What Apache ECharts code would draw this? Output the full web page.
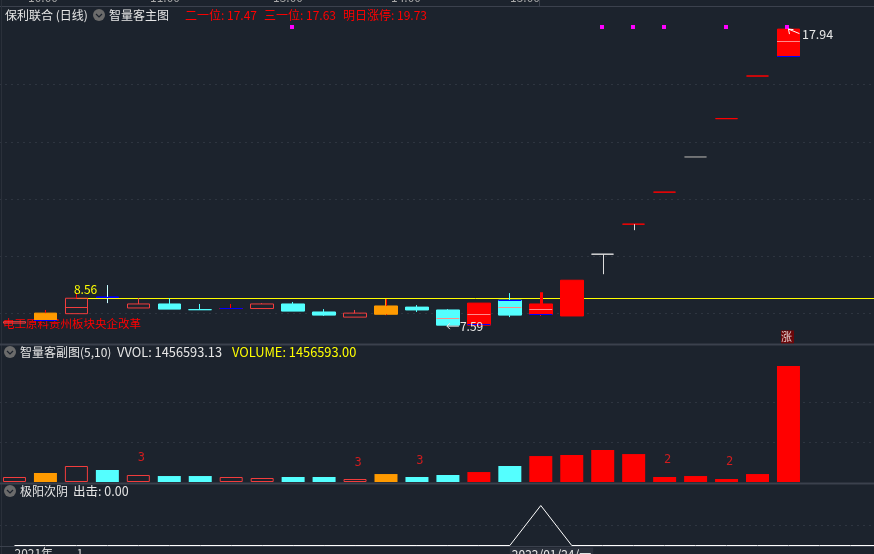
<!DOCTYPE html>
<html><head><meta charset="utf-8">
<style>html,body{margin:0;padding:0;background:#1c232d;overflow:hidden}#c{width:874px;height:554px}</style>
<script src="https://cdn.jsdelivr.net/npm/echarts@6/dist/echarts.min.js"></script>
</head><body><div id="c"></div>
<script>
// ---- data ----
const dayLabels = ['2021年','','1','','','','','','','','','','','','','','2022/01/24/一','','','','','','','','','','','',''];
const opens  = [7.66,7.77,7.99,8.57,8.19,8.33,8.13,8.17,8.17,8.33,8.05,7.87,7.97,8.22,8.12,7.59,8.46,7.97,7.91,10.07,11.12,12.24,13.47,14.81,16.30,17.00];
const closes = [7.71,8.01,8.53,8.57,8.33,8.15,8.13,8.17,8.33,8.08,7.94,8.01,8.26,8.12,7.59,8.36,7.94,8.33,9.16,10.07,11.12,12.24,13.47,14.81,16.30,17.94];
const lows   = [7.66,7.77,7.99,8.36,8.19,8.15,8.13,8.17,8.17,8.08,7.91,7.87,7.94,8.05,7.59,7.59,7.87,7.91,7.91,10.07,11.12,12.24,13.47,14.81,16.30,17.00];
const highs  = [7.71,8.01,8.53,8.99,8.53,8.53,8.33,8.33,8.36,8.40,8.15,8.12,8.50,8.29,8.15,8.36,8.71,8.33,9.16,10.07,11.12,12.24,13.47,14.81,16.30,17.94];
const candleKinds = ['hollow','orange','hollow','blue','hollow','cyan','cyan','red','hollow','cyan','cyan','hollow','orange','cyan','cyan','red','cyan','red','red','white','red','red','grey','red','red','red'];
const volumes = [62800,113000,201000,151000,88000,75000,75000,62800,50200,62800,62800,37700,100000,62800,88000,125000,201000,326000,339000,402000,351000,62800,75000,37700,100000,1456593];
const volumeKinds = ['hollow','orange','hollow','cyan','hollow','cyan','cyan','hollow','hollow','cyan','cyan','hollow','orange','cyan','cyan','red','cyan','red','red','red','red','red','red','red','red','red'];
const signal = [0,0,0,0,0,0,0,0,0,0,0,0,0,0,0,0,0,1,0,0,0,0,0,0,0,0,0,0,0];
const midLevels  = [[2,8.22],[14,7.83],[15,7.97],[16,8.20],[17,8.15],[25,17.49]];
const baseLevels = [[1,7.75],[3,8.57],[7,8.16],[15,7.61],[16,8.46],[17,7.96],[25,16.98]];
const extraWicks = [[1,8.01,8.12,'red'],[2,8.53,8.71,'red'],[12,8.26,8.50,'red'],[12,7.97,7.94,'red'],[17,8.33,8.74,'thick'],[19,10.07,9.37,'white'],[20,11.12,10.91,'white'],[3,8.36,8.99,'pale']];
const topDots = [[9,18],[19,18],[20,18],[21,18],[23,18],[25,18]];
const yellowLine = 8.52;
const volumeMarks = [[4,300000,'3'],[11,240000,'3'],[13,265000,'3'],[21,275000,'2'],[23,250000,'2']];
const limitBadge = [[25,7.18,'涨']];
const priceNotes = [[2,8.56,'8.56'],[14,7.59,'7.59'],[25,17.94,'17.94']];
const topTimes = ['10:00','11:00','13:00','14:00','15:00'];

// ---- style ----
const BG='#1c232d', GRIDC='#2e3540', SEP='#3b414d';
const FONT='"Noto Sans CJK SC","Noto Sans",sans-serif';
const palette={hollow:'#f23d3d',red:'#ff0000',cyan:'#54ffff',orange:'#ff9a00',blue:'#0000ff',white:'#dddddd',grey:'#8a8a8a',pale:'#c8ffff',thick:'#ff0000'};
const fillOf=k=>k==='hollow'?'rgba(0,0,0,0)':palette[k];
const split={show:true,showMinLine:false,showMaxLine:false,lineStyle:{color:GRIDC,type:[2,4],width:1}};

function hline(api,item,color){
  const c=api.coord(item); const w=api.size([1,0])[0]*0.74; const y=Math.floor(c[1])+0.5;
  return {type:'line',shape:{x1:c[0]-w/2,y1:y,x2:c[0]+w/2,y2:y},style:{stroke:color,lineWidth:1}};
}
function txt(x,y,text,fill,size){
  return {type:'text',silent:true,x:x,y:y,style:{text:text,fill:fill,font:(size||12)+'px '+FONT,verticalAlign:'middle'}};
}
function chevron(x,y){
  return [{type:'circle',shape:{cx:x,cy:y,r:6},style:{fill:'#6b6b6b'}},
          {type:'polyline',shape:{points:[[x-3,y-1],[x,y+2],[x+3,y-1]]},style:{stroke:'#1c232d',fill:null,lineWidth:1.2}}];
}
function rule(x1,y1,x2,y2,c,w){return {type:'line',shape:{x1,y1,x2,y2},style:{stroke:c,lineWidth:w||1}};}

const graphics=[
  rule(0,6.5,874,6.5,SEP), rule(1.5,0,1.5,554,'#2a303a'), rule(539.5,0,539.5,6,SEP),
  rule(0,344.5,874,344.5,SEP,2), rule(0,483.5,874,483.5,SEP,2), rule(0,546.5,874,546.5,SEP),
  txt(5,15,'保利联合 (日线)','#e6e6e6'), ...chevron(99,15), txt(109,15,'智量客主图','#e6e6e6'),
  txt(185,15,'二一位: 17.47','#ff0000'), txt(264,15,'三一位: 17.63','#ff0000'), txt(343,15,'明日涨停: 19.73','#ff0000'),
  ...chevron(10,352), txt(20,352,'智量客副图(5,10)','#e6e6e6'), txt(117,352,'VVOL: 1456593.13','#e6e6e6',12.8), txt(232,352,'VOLUME: 1456593.00','#ffff00',12.8),
  ...chevron(10,491), txt(20,491,'极阳次阴','#e6e6e6'), txt(73,491,'出击: 0.00','#e6e6e6',12.5),
  txt(3,324,'电工原料贵州板块央企改革','#ff0000',11.5),
];
[28,150,273,391,510].forEach((x,i)=>graphics.push(txt(x,-3,topTimes[i],'#a8a8a8')));

const chart=echarts.init(document.getElementById('c'),null,{renderer:'canvas'});
const gridW=29*30.96;
chart.setOption({
  backgroundColor:BG, animation:false, textStyle:{fontFamily:FONT},
  grid:[
    {left:-1,width:gridW,top:27.4,height:343.2,outerBoundsMode:'none'},
    {left:-1,width:gridW,top:362.6,height:119.4,outerBoundsMode:'none'},
    {left:-1,width:gridW,top:505.5,height:40,outerBoundsMode:'none'}
  ],
  xAxis:[0,1,2].map(i=>({type:'category',gridIndex:i,data:dayLabels,boundaryGap:true,
    axisTick:{show:false},splitLine:{show:false},
    axisLine:{show:false},
    axisLabel:i<2?{show:false}:{show:true,interval:(k,v)=>v!=='',margin:2,align:'left',color:'#d8d8d8',fontSize:12,
      formatter:v=>v.length>6?'{d|'+v+'}':v,rich:{d:{backgroundColor:'#2b313c',color:'#e8e8e8',fontSize:12,padding:[1,2,0,2]}}}})),
  yAxis:[
    {type:'value',gridIndex:0,min:6,max:18,interval:2,axisLabel:{show:false},axisLine:{show:false},axisTick:{show:false},splitLine:split},
    {type:'value',gridIndex:1,min:0,max:1500000,interval:500000,axisLabel:{show:false},axisLine:{show:false},axisTick:{show:false},splitLine:split},
    {type:'value',gridIndex:2,min:0,max:1,interval:0.5,axisLabel:{show:false},axisLine:{show:false},axisTick:{show:false},splitLine:split}
  ],
  graphic:{elements:graphics},
  series:[
    {type:'line',xAxisIndex:0,yAxisIndex:0,symbol:'none',silent:true,z:2,
     lineStyle:{color:'#ffff00',width:1},data:[[2,yellowLine],[28,yellowLine]]},
    {type:'candlestick',xAxisIndex:0,yAxisIndex:0,barWidth:23,z:3,
     data:opens.map((o,i)=>{const k=candleKinds[i];return {value:[o,closes[i],lows[i],highs[i]],
       itemStyle:{color:fillOf(k),color0:fillOf(k),borderColor:palette[k],borderColor0:palette[k],borderWidth:1}};})},
    {type:'custom',xAxisIndex:0,yAxisIndex:0,z:4,silent:true,data:extraWicks.map(d=>[d[0],d[1],d[2]]),
     renderItem:(p,api)=>{const a=api.coord([api.value(0),api.value(1)]),b=api.coord([api.value(0),api.value(2)]);
       const k=extraWicks[p.dataIndex][3];const x=Math.round(a[0])+0.5;
       return {type:'line',shape:{x1:x,y1:a[1],x2:x,y2:b[1]},style:{stroke:palette[k],lineWidth:k==='thick'?3:1}};}},
    {type:'custom',xAxisIndex:0,yAxisIndex:0,z:5,silent:true,data:midLevels,
     renderItem:(p,api)=>{const k=midLevels[p.dataIndex][0];return hline(api,[api.value(0),api.value(1)],candleKinds[k]==='hollow'?palette.hollow:'#ff8a8a');}},
    {type:'custom',xAxisIndex:0,yAxisIndex:0,z:5,silent:true,data:baseLevels,
     renderItem:(p,api)=>hline(api,[api.value(0),api.value(1)],palette.blue)},
    {type:'custom',xAxisIndex:0,yAxisIndex:0,z:6,silent:true,clip:false,data:topDots,
     renderItem:(p,api)=>{const c=api.coord([api.value(0),api.value(1)]);
       return {type:'rect',shape:{x:Math.round(c[0])-3,y:Math.round(c[1])-2,width:4,height:4},style:{fill:'#ff00ff'}};}},
    {type:'scatter',xAxisIndex:0,yAxisIndex:0,z:6,silent:true,symbol:'rect',symbolSize:13,symbolOffset:[-1,0],
     itemStyle:{color:'#800000'},data:limitBadge.map(d=>[d[0],d[1]]),
     label:{show:true,position:'inside',offset:[-1,0],formatter:limitBadge[0][2],color:'#ffffff',fontSize:11}},
    {type:'custom',xAxisIndex:0,yAxisIndex:0,z:7,silent:true,data:priceNotes.map(d=>[d[0],d[1]]),
     renderItem:(p,api)=>{const c=api.coord([api.value(0),api.value(1)]);const t=priceNotes[p.dataIndex][2];
       const white='#e8e8e8',ch=[];
       if(p.dataIndex===0){ch.push({type:'text',x:c[0]-2.5,y:c[1]-8,style:{text:t,fill:'#ffff00',font:'12px '+FONT,verticalAlign:'middle'}});}
       else if(p.dataIndex===1){const x=c[0]-1,y=c[1]+1;
         ch.push({type:'polyline',shape:{points:[[x+3,y-3],[x,y],[x+3,y+3]]},style:{stroke:white,fill:null,lineWidth:1}},
                 {type:'line',shape:{x1:x,y1:y,x2:x+12,y2:y},style:{stroke:white,lineWidth:1}},
                 {type:'text',x:x+13,y:y,style:{text:t,fill:white,font:'12px '+FONT,verticalAlign:'middle'}});}
       else{const x=c[0],y=c[1];
         ch.push({type:'polyline',shape:{points:[[x+1,y+5],[x,y],[x+5,y+0.5]]},style:{stroke:'#ffffff',fill:null,lineWidth:1}},
                 {type:'line',shape:{x1:x,y1:y,x2:x+11,y2:y+4.5},style:{stroke:'#ffffff',lineWidth:1}},
                 {type:'text',x:x+13.5,y:y+5,style:{text:t,fill:white,font:'12.5px '+FONT,verticalAlign:'middle'}});}
       return {type:'group',children:ch};}},
    {type:'bar',xAxisIndex:1,yAxisIndex:1,barWidth:23,z:3,
     data:volumes.map((v,i)=>{const k=volumeKinds[i];return {value:v,itemStyle:{color:fillOf(k),borderColor:palette[k],borderWidth:k==='hollow'?1:0}};})},
    {type:'scatter',xAxisIndex:1,yAxisIndex:1,z:6,silent:true,symbolSize:1,itemStyle:{color:'rgba(0,0,0,0)'},
     data:volumeMarks,
     label:{show:true,position:'inside',offset:[3,0],color:'#ff1a1a',fontSize:12,fontFamily:'"DejaVu Sans Mono",monospace',formatter:p=>p.value[2]}},
    {type:'line',xAxisIndex:2,yAxisIndex:2,symbol:'none',clip:false,silent:true,z:5,
     lineStyle:{color:'#ffffff',width:1},data:signal}
  ]
});
</script></body></html>
